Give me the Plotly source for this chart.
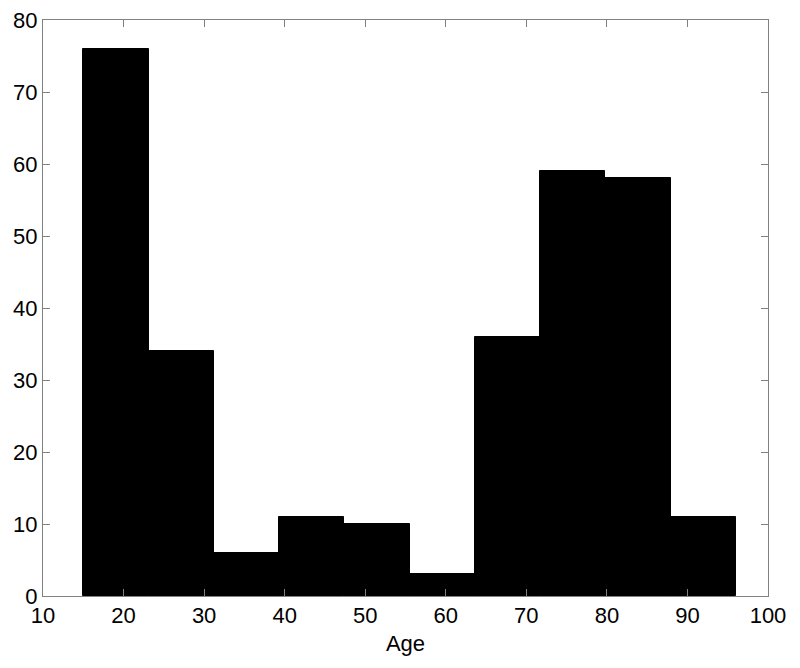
import plotly.graph_objects as go

bin_centers = [19.05, 27.15, 35.25, 43.35, 51.45, 59.55, 67.65, 75.75, 83.85, 91.95]
counts = [76, 34, 6, 11, 10, 3, 36, 59, 58, 11]
bin_width = 8.1
x_ticks = [10, 20, 30, 40, 50, 60, 70, 80, 90, 100]
y_ticks = [0, 10, 20, 30, 40, 50, 60, 70, 80]

fig = go.Figure(go.Bar(
    x=bin_centers, y=counts, width=[bin_width] * len(counts),
    marker=dict(color="black", line=dict(color="black", width=1)),
))

font = dict(family="Liberation Sans, Arial, sans-serif", size=22, color="black")
fig.update_layout(
    width=792, height=660,
    margin=dict(l=35, r=32, t=12, b=72),
    paper_bgcolor="white", plot_bgcolor="white",
    showlegend=False, bargap=0,
    font=font,
)
fig.update_xaxes(
    range=[10, 100], tickvals=x_ticks, ticks="inside", ticklen=7, tickcolor="#808080",
    showline=True, linecolor="#808080", linewidth=1, mirror="ticks",
    showgrid=False, zeroline=False, automargin=False, ticklabeloverflow="allow",
    title=dict(text="Age", font=dict(size=22), standoff=8),
    tickfont=dict(size=22),
)
fig.update_yaxes(
    range=[0, 80], tickvals=y_ticks, ticks="inside", ticklen=7, tickcolor="#808080",
    showline=True, linecolor="#808080", linewidth=1, mirror="ticks",
    showgrid=False, zeroline=False, automargin=False, ticklabeloverflow="allow",
    tickfont=dict(size=22),
)
fig.write_html("out.html")
